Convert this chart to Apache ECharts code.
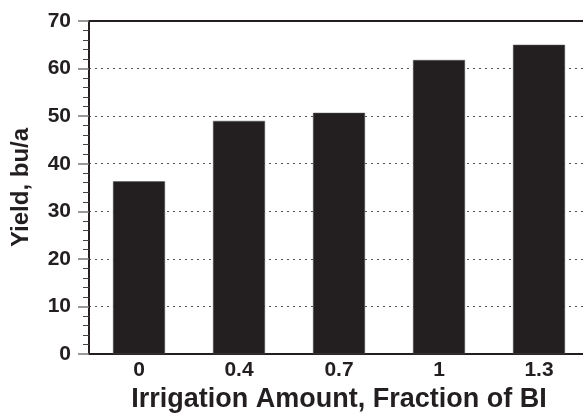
<!DOCTYPE html>
<html>
<head>
<meta charset="utf-8">
<script src="https://cdn.jsdelivr.net/npm/echarts@6/dist/echarts.min.js"></script>
<style>html,body{margin:0;padding:0;background:#fff;}#c{width:583px;height:413px;}</style>
</head>
<body>
<div id="c"></div>
<script>
const categories = ['0', '0.4', '0.7', '1', '1.3'];
const yieldValues = [36.3, 49.0, 50.7, 61.8, 65.0];
const xAxisTitle = 'Irrigation Amount, Fraction of BI';
const yAxisTitle = 'Yield, bu/a';

const chart = echarts.init(document.getElementById('c'), null, {renderer: 'canvas'});
const font = 'Liberation Sans, Arial, sans-serif';
chart.setOption({
  animation: false,
  grid: {left: 89, right: -6, top: 21, bottom: 59, containLabel: false, outerBoundsMode: 'none'},
  xAxis: [{
    type: 'category',
    data: categories,
    position: 'bottom',
    axisLine: {lineStyle: {color: '#231f20', width: 2}},
    axisTick: {show: false},
    axisLabel: {color: '#231f20', fontFamily: font, fontWeight: 'bold', fontSize: 21, margin: 6},
    name: xAxisTitle,
    nameLocation: 'middle',
    nameGap: 30,
    nameTextStyle: {color: '#231f20', fontFamily: font, fontWeight: 'bold', fontSize: 27}
  }, {
    type: 'category',
    data: categories,
    position: 'top',
    axisLine: {lineStyle: {color: '#231f20', width: 2}},
    axisTick: {show: false},
    axisLabel: {show: false}
  }],
  yAxis: {
    type: 'value',
    min: 0, max: 70, interval: 10,
    axisLine: {show: true, lineStyle: {color: '#231f20', width: 2}},
    axisTick: {show: true, length: 11, lineStyle: {color: '#777', width: 1.5}},
    minorTick: {show: true, splitNumber: 5, length: 6, lineStyle: {color: '#444', width: 1}},
    axisLabel: {color: '#231f20', fontFamily: font, fontWeight: 'bold', fontSize: 21, margin: 18},
    splitLine: {show: true, lineStyle: {color: '#555', type: [2, 4], width: 1}},
    name: yAxisTitle,
    nameLocation: 'middle',
    nameGap: 56,
    nameTextStyle: {color: '#231f20', fontFamily: font, fontWeight: 'bold', fontSize: 24}
  },
  series: [{
    type: 'bar',
    data: yieldValues,
    barWidth: 52,
    itemStyle: {color: '#231f20', borderColor: '#555', borderWidth: 0.5}
  }]
});
</script>
</body>
</html>
